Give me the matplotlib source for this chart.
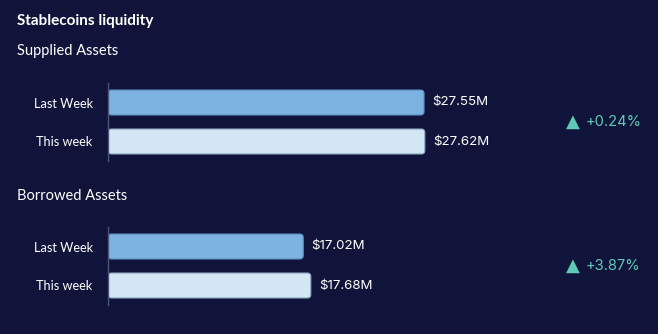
import matplotlib
matplotlib.use("Agg")
import matplotlib.pyplot as plt
from matplotlib.patches import FancyBboxPatch

# ---- data ----
title = "Stablecoins liquidity"
sections = ["Supplied Assets", "Borrowed Assets"]
categories = ["Last Week", "This week"]
supplied = [27.55, 27.62]
borrowed = [17.02, 17.68]
value_labels_supplied = ["$27.55M", "$27.62M"]
value_labels_borrowed = ["$17.02M", "$17.68M"]
changes = ["+0.24%", "+3.87%"]

BG = "#11143a"
C_LAST = "#7db3e0"
E_LAST = "#5e8fc4"
C_THIS = "#d3e6f4"
E_THIS = "#8fa6c4"
SPINE = "#4a5578"
TXT = "#ffffff"
GREEN = "#5ec9b6"

W, H = 658, 334
fig = plt.figure(figsize=(W / 100, H / 100), dpi=100, facecolor=BG)

def fx(px):
    return px / W

def fy(py):
    return 1 - py / H

XMAX = 48.0
ax_left = 108
ax_w = 550.6  # px, so 1 unit ~ 11.47 px

fig.text(fx(17), fy(25.5), title, color=TXT, fontsize=11, fontweight="bold",
         family="Lato", va="baseline", ha="left")

blocks = [
    (sections[0], supplied, value_labels_supplied, changes[0], 55, 83),
    (sections[1], borrowed, value_labels_borrowed, changes[1], 200, 227),
]

for name, vals, vlabels, chg, title_base, ax_top in blocks:
    fig.text(fx(17), fy(title_base), name, color=TXT, fontsize=10.5,
             family="Lato", va="baseline", ha="left")
    ax = fig.add_axes([fx(ax_left), fy(ax_top + 78), ax_w / W, 78 / H])
    ax.set_facecolor("none")
    ax.set_xlim(0, XMAX)
    ax.set_ylim(1.5, -0.5)
    ypos = list(range(len(categories)))
    bars = ax.barh(ypos, vals, height=0.64, color=[C_LAST, C_THIS])
    # replace with rounded bars
    x_px_per_unit = ax_w / XMAX
    y_px_per_unit = 39.0
    aspect = (1 / y_px_per_unit) / (1 / x_px_per_unit)
    for b, fc, ec in zip(bars, [C_LAST, C_THIS], [E_LAST, E_THIS]):
        b.set_visible(False)
        x0, y0 = b.get_x(), b.get_y()
        w, h = b.get_width(), b.get_height()
        p = FancyBboxPatch((x0, y0), w, h,
                           boxstyle=f"round,pad=0,rounding_size={3.5 / x_px_per_unit}",
                           mutation_aspect=aspect, facecolor=fc, edgecolor=ec,
                           linewidth=0.8, zorder=2)
        ax.add_patch(p)
    for y, v, lab in zip(ypos, vals, vlabels):
        ax.annotate(lab, (v, y), xytext=(8, 0), textcoords="offset pixels",
                    va="center", ha="left", color=TXT, fontsize=9.6, family="Inter")
    ax.set_yticks(ypos)
    ax.set_yticklabels(categories, color=TXT, fontsize=9.2, family="Lato")
    ax.tick_params(axis="y", length=0, pad=11)
    ax.set_xticks([])
    for s in ["top", "right", "bottom"]:
        ax.spines[s].set_visible(False)
    ax.spines["left"].set_color(SPINE)
    ax.spines["left"].set_linewidth(1.0)
    yc = ax_top + 39
    fig.text(fx(566), fy(yc), "\u25b2", color=GREEN, fontsize=13, family="DejaVu Sans",
             va="center", ha="left")
    fig.text(fx(586), fy(yc), chg, color=GREEN, fontsize=10.6, family="Inter",
             va="center", ha="left")

fig.savefig("out.png", dpi=100, facecolor=BG)
